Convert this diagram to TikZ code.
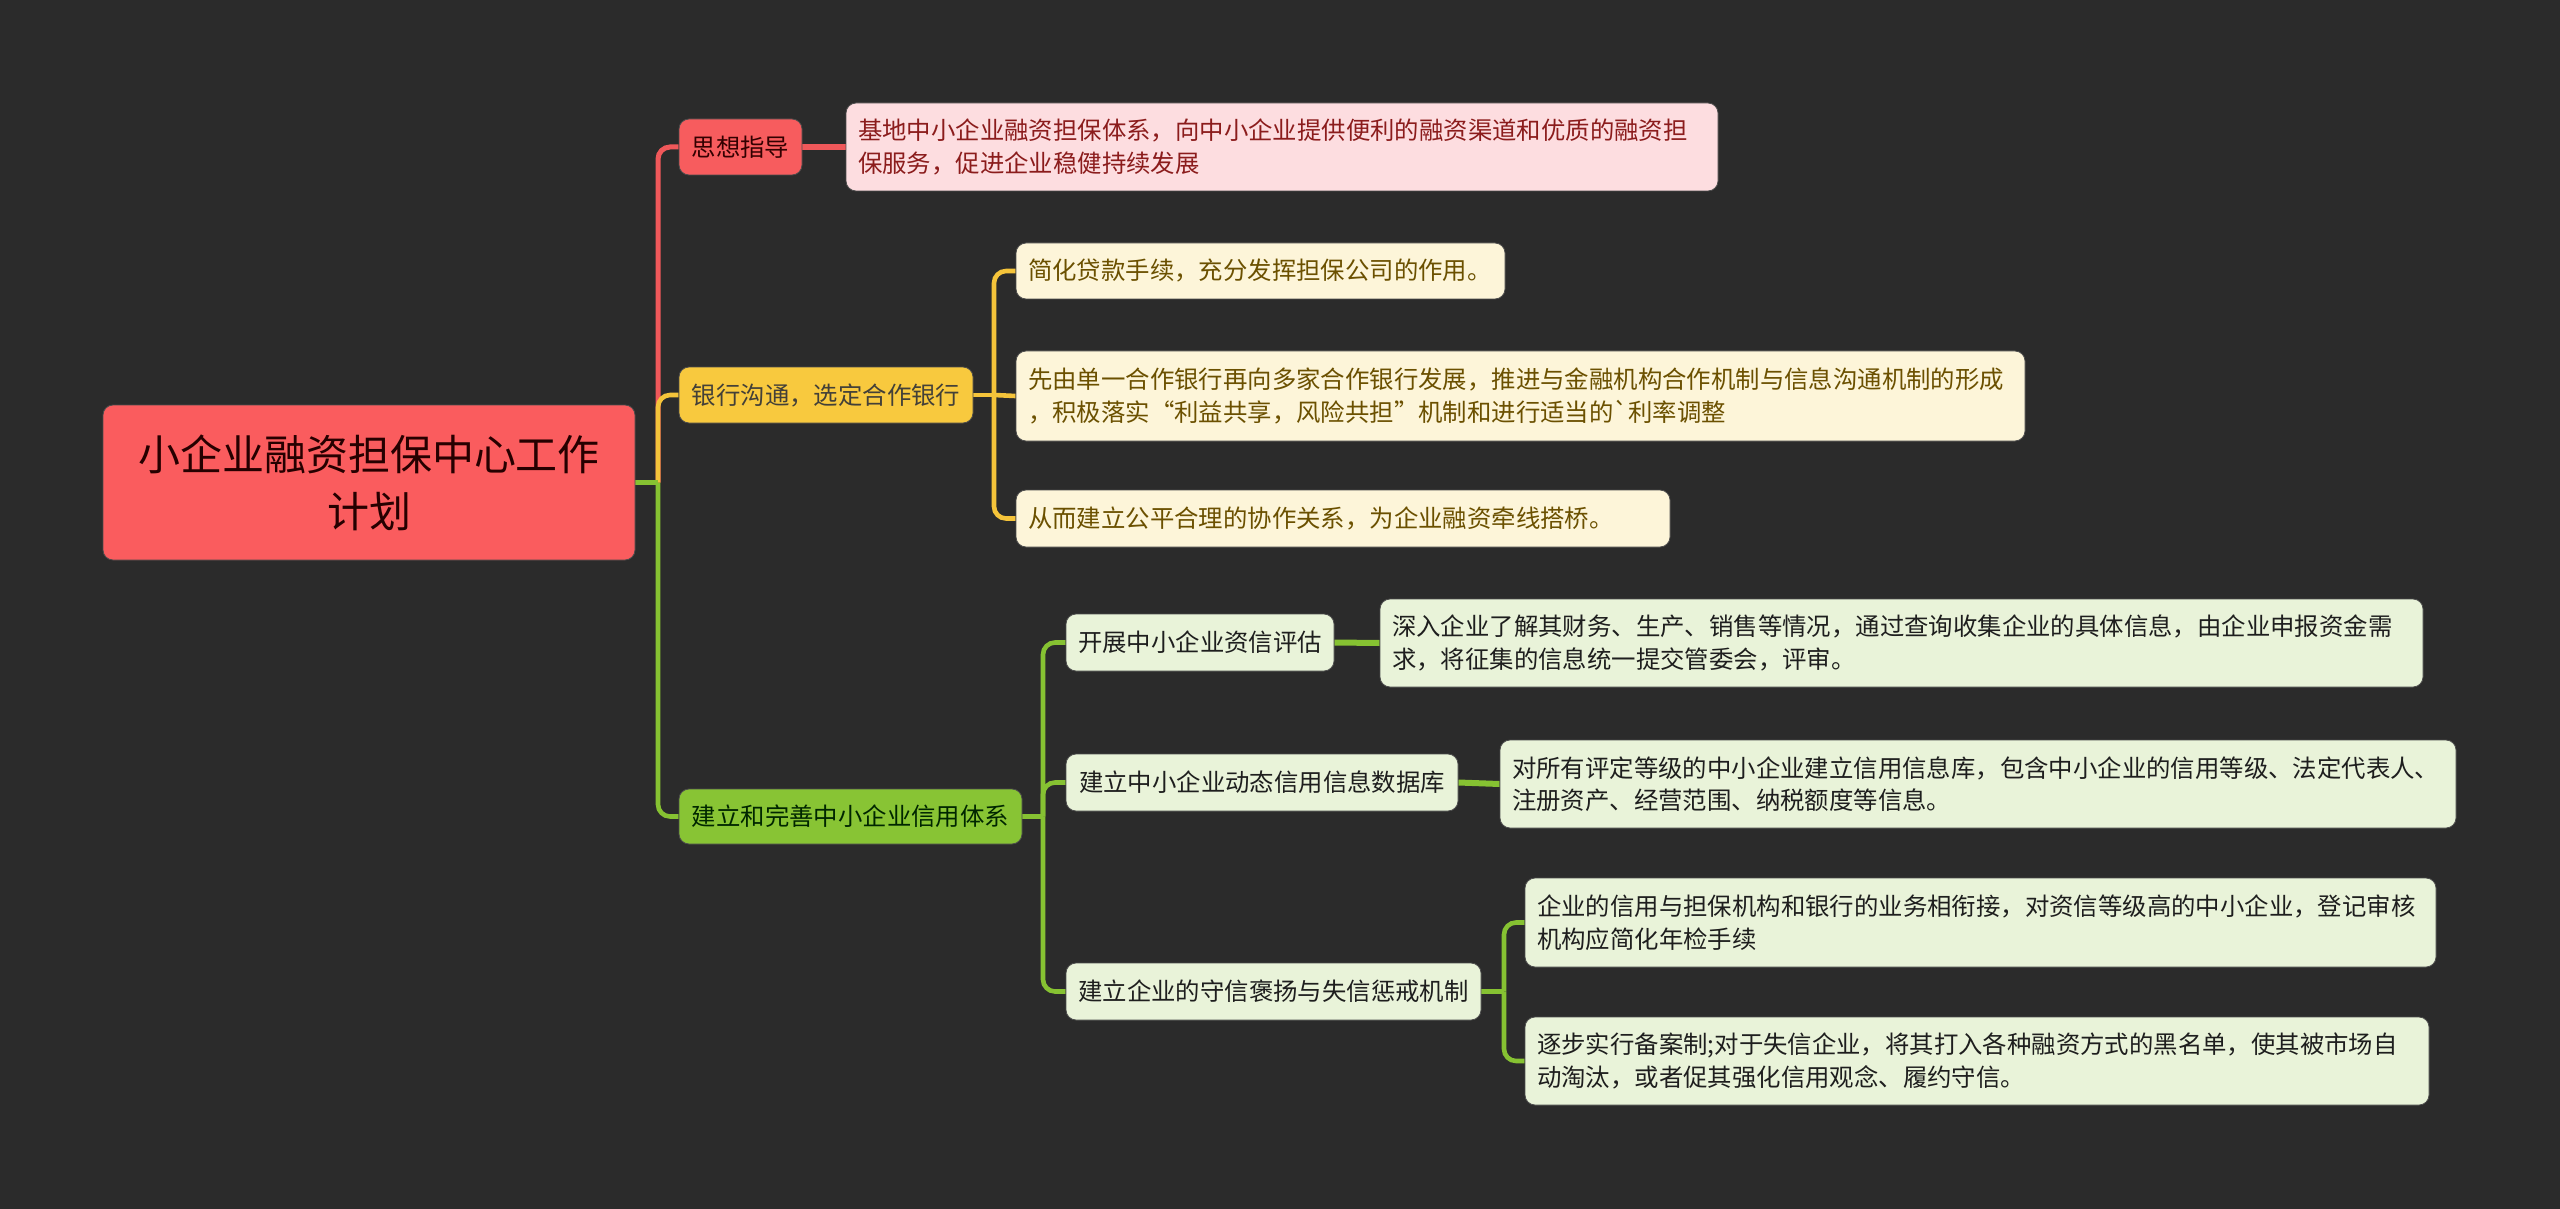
\documentclass[tikz,border=0pt]{standalone}
\usepackage{fontspec}
\setmainfont{Noto Sans CJK SC}[Ligatures=TeXOff]
\definecolor{bg}{HTML}{2B2B2B}
\definecolor{rootfill}{HTML}{FA5C5E}
\definecolor{redfill}{HTML}{F75C5E}
\definecolor{pinkfill}{HTML}{FDDDE0}
\definecolor{pinktext}{HTML}{8B1C1C}
\definecolor{yelfill}{HTML}{F8C93E}
\definecolor{creamfill}{HTML}{FDF5D9}
\definecolor{creamtext}{HTML}{6B5000}
\definecolor{grnfill}{HTML}{88C434}
\definecolor{lgfill}{HTML}{E9F3D9}
\definecolor{lgtext}{HTML}{1E1E1E}
\definecolor{redline}{HTML}{F0585A}
\definecolor{yelline}{HTML}{F5C43A}
\definecolor{grnline}{HTML}{86C232}
\pgfdeclarelayer{bgfill}
\pgfdeclarelayer{links}
\pgfsetlayers{bgfill,links,main}
\tikzset{
  box/.style={rounded corners=5pt, draw=black!70, line width=0.4pt, inner sep=0pt},
  rootbox/.style={box, fill=rootfill, text=black!75!red!60!black, align=center,
    font=\fontsize{21}{28.5}\selectfont},
  midbox/.style={box, align=center, font=\fontsize{12.2}{16.3}\selectfont},
  leafbox/.style={box, align=left, font=\fontsize{12.2}{16.3}\selectfont},
  rline/.style={draw=redline, line width=2.5pt},
  yline/.style={draw=yelline, line width=2.3pt},
  gline/.style={draw=grnline, line width=2.3pt},
  stub/.style={line width=3pt},
  rc/.style={rounded corners=6pt},
}
\begin{document}
\begin{tikzpicture}[x=0.5pt,y=-0.5pt]
\begin{pgfonlayer}{bgfill}
\useasboundingbox[fill=bg] (0,0) rectangle (2560,1209);
\end{pgfonlayer}

% root
\node[rootbox, minimum width=266pt, minimum height=77.5pt] (root) at (369,482.5)
  {小企业融资担保中心工作\\计划};

% branch 1
\node[midbox, fill=redfill, text=black!80!red, minimum width=61.5pt, minimum height=28pt] (a) at (740.5,147) {思想指导};
\node[leafbox, fill=pinkfill, text=pinktext, minimum width=436pt, minimum height=44pt, text width=424pt] (a1) at (1282,147)
  {基地中小企业融资担保体系，向中小企业提供便利的融资渠道和优质的融资担\\保服务，促进企业稳健持续发展};

% branch 2
\node[midbox, fill=yelfill, text=black!85!yellow, minimum width=147pt, minimum height=28pt] (b) at (826,395) {银行沟通，选定合作银行};
\node[leafbox, fill=creamfill, text=creamtext, minimum width=244.5pt, minimum height=28pt, text width=232.5pt] (b1) at (1260.5,271)
  {简化贷款手续，充分发挥担保公司的作用。};
\node[leafbox, fill=creamfill, text=creamtext, minimum width=504.5pt, minimum height=45pt, text width=492.5pt] (b2) at (1520.5,396)
  {先由单一合作银行再向多家合作银行发展，推进与金融机构合作机制与信息沟通机制的形成\\，积极落实“利益共享，风险共担”机制和进行适当的`利率调整};
\node[leafbox, fill=creamfill, text=creamtext, minimum width=327pt, minimum height=28.5pt, text width=315pt] (b3) at (1343,518.5)
  {从而建立公平合理的协作关系，为企业融资牵线搭桥。};

% branch 3
\node[midbox, fill=grnfill, text=black!85!green, minimum width=171.5pt, minimum height=27.5pt] (c) at (850.5,816.5) {建立和完善中小企业信用体系};
\node[midbox, fill=lgfill, text=lgtext, minimum width=134pt, minimum height=28.5pt] (c1) at (1200,642.5) {开展中小企业资信评估};
\node[leafbox, fill=lgfill, text=lgtext, minimum width=521.5pt, minimum height=44pt, text width=509.5pt] (c1a) at (1901.5,643)
  {深入企业了解其财务、生产、销售等情况，通过查询收集企业的具体信息，由企业申报资金需\\求，将征集的信息统一提交管委会，评审。};
\node[midbox, fill=lgfill, text=lgtext, minimum width=196pt, minimum height=28.5pt] (c2) at (1262,782.5) {建立中小企业动态信用信息数据库};
\node[leafbox, fill=lgfill, text=lgtext, minimum width=478pt, minimum height=44pt, text width=466pt] (c2a) at (1978,784)
  {对所有评定等级的中小企业建立信用信息库，包含中小企业的信用等级、法定代表人、\\注册资产、经营范围、纳税额度等信息。};
\node[midbox, fill=lgfill, text=lgtext, minimum width=207.5pt, minimum height=28.5pt] (c3) at (1273.5,991.5) {建立企业的守信褒扬与失信惩戒机制};
\node[leafbox, fill=lgfill, text=lgtext, minimum width=455.5pt, minimum height=44.5pt, text width=443.5pt] (c3a) at (1980.5,922.5)
  {企业的信用与担保机构和银行的业务相衔接，对资信等级高的中小企业，登记审核\\机构应简化年检手续};
\node[leafbox, fill=lgfill, text=lgtext, minimum width=452pt, minimum height=44pt, text width=440pt] (c3b) at (1977,1061)
  {逐步实行备案制;对于失信企业，将其打入各种融资方式的黑名单，使其被市场自\\动淘汰，或者促其强化信用观念、履约守信。};

% trunk coordinates
\coordinate (t0) at (658,482.5);
\coordinate (tb) at (994,395);
\coordinate (tc) at (1043,816.5);
\coordinate (tc3) at (1504,991.5);

\begin{pgfonlayer}{links}
  % root to main branches
  \draw[rline] (root.east) -- (t0);
  \draw[rline, rc] (t0) |- (a.west);
  \draw[yline] (root.east) -- (t0);
  \draw[yline, rc] (t0) |- (b.west);
  \draw[gline] (root.east) -- (t0);
  \draw[gline, rc] (t0) |- (c.west);
  % branch 1 leaf
  \draw[rline, stub] (a.east) -- (a1.west);
  % branch 2 leaves
  \draw[yline] (b.east) -- (tb);
  \draw[yline, rc] (tb) |- (b1.west);
  \draw[yline] (tb) -- (b2.west);
  \draw[yline, rc] (tb) |- (b3.west);
  % branch 3
  \draw[gline] (c.east) -- (tc);
  \draw[gline, rc] (tc) |- (c1.west);
  \draw[gline, rc] (tc) |- (c2.west);
  \draw[gline, rc] (tc) |- (c3.west);
  \draw[gline, stub] (c1.east) -- (c1a.west);
  \draw[gline, stub] (c2.east) -- (c2a.west);
  \draw[gline] (c3.east) -- (tc3);
  \draw[gline, rc] (tc3) |- (c3a.west);
  \draw[gline, rc] (tc3) |- (c3b.west);
\end{pgfonlayer}
\end{tikzpicture}
\end{document}
